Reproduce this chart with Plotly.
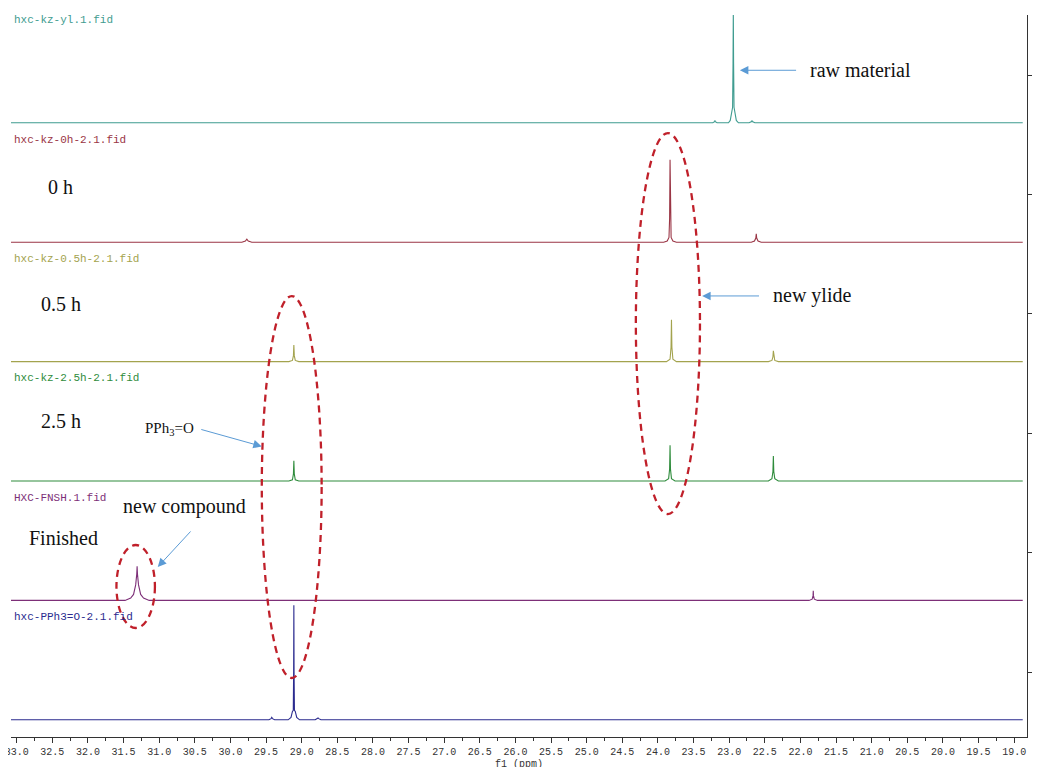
import plotly.graph_objects as go

# ---- data (ppm, relative intensity) ----
names = ["hxc-kz-yl.1.fid", "hxc-kz-0h-2.1.fid", "hxc-kz-0.5h-2.1.fid",
         "hxc-kz-2.5h-2.1.fid", "HXC-FNSH.1.fid", "hxc-PPh3=O-2.1.fid"]
colors = ["#3f9c90", "#9a3545", "#a3a34e", "#2f8c3c", "#7d2f78", "#2b2b8f"]
offsets = [5.6, 4.6, 3.6, 2.6, 1.6, 0.6]

ppm_yl = [33.08, 23.23, 23.205, 23.20, 23.195, 23.17, 23.01, 22.985, 22.965, 22.952,
          22.946, 22.942, 22.938, 22.932, 22.918, 22.90, 22.87, 22.72, 22.685, 22.68,
          22.675, 22.64, 18.88]
int_yl = [0, 0, 0.01, 0.02, 0.01, 0, 0, 0.02, 0.08, 0.13,
          0.5, 0.95, 0.5, 0.13, 0.08, 0.02, 0, 0, 0.01, 0.02,
          0.01, 0, 0]

ppm_0h = [33.08, 29.84, 29.79, 29.77, 29.75, 29.70, 23.92, 23.87, 23.845, 23.836,
          23.83, 23.824, 23.815, 23.79, 23.74, 22.69, 22.645, 22.626, 22.62, 22.614,
          22.595, 22.55, 18.88]
int_0h = [0, 0, 0.01, 0.025, 0.01, 0, 0, 0.01, 0.04, 0.2,
          0.69, 0.2, 0.04, 0.01, 0, 0, 0.01, 0.035, 0.07, 0.035,
          0.01, 0, 0]

ppm_05h = [33.08, 29.18, 29.13, 29.116, 29.11, 29.104, 29.09, 29.04, 23.88, 23.83,
           23.816, 23.81, 23.804, 23.79, 23.74, 22.45, 22.40, 22.386, 22.38, 22.374,
           22.36, 22.31, 18.88]
int_05h = [0, 0, 0.01, 0.05, 0.14, 0.05, 0.01, 0, 0, 0.02,
           0.12, 0.35, 0.12, 0.02, 0, 0, 0.01, 0.04, 0.09, 0.04,
           0.01, 0, 0]

ppm_25h = [33.08, 29.18, 29.13, 29.116, 29.11, 29.104, 29.09, 29.04, 23.90, 23.85,
           23.836, 23.83, 23.824, 23.81, 23.76, 22.45, 22.40, 22.386, 22.38, 22.374,
           22.36, 22.31, 18.88]
int_25h = [0, 0, 0.01, 0.06, 0.17, 0.06, 0.01, 0, 0, 0.02,
           0.1, 0.3, 0.1, 0.02, 0, 0, 0.02, 0.08, 0.21, 0.08,
           0.02, 0, 0]

ppm_fin = [33.08, 31.48, 31.44, 31.40, 31.36, 31.33, 31.315, 31.31, 31.305, 31.29,
           31.26, 31.22, 31.18, 31.14, 21.88, 21.835, 21.823, 21.82, 21.817, 21.805,
           21.76, 18.88]
int_fin = [0, 0, 0.01, 0.02, 0.05, 0.13, 0.22, 0.285, 0.22, 0.13,
           0.05, 0.02, 0.01, 0, 0, 0.01, 0.04, 0.08, 0.04, 0.01,
           0, 0]

ppm_pph = [33.08, 29.46, 29.43, 29.42, 29.41, 29.38, 29.19, 29.15, 29.13, 29.118,
           29.113, 29.11, 29.107, 29.102, 29.09, 29.07, 29.03, 28.81, 28.78, 28.77,
           28.76, 28.73, 18.88]
int_pph = [0, 0, 0.01, 0.02, 0.01, 0, 0, 0.02, 0.07, 0.08,
           0.4, 0.96, 0.4, 0.08, 0.07, 0.02, 0, 0, 0.01, 0.015,
           0.01, 0, 0]

spectra_ppm = [ppm_yl, ppm_0h, ppm_05h, ppm_25h, ppm_fin, ppm_pph]
spectra_int = [int_yl, int_0h, int_05h, int_25h, int_fin, int_pph]

x_ticks = [33.0 - 0.5 * i for i in range(29)]
y_ticks = [1, 2, 3, 4, 5, 6]

fig = go.Figure()
for name, col, off, xs, ys in zip(names, colors, offsets, spectra_ppm, spectra_int):
    fig.add_trace(go.Scatter(x=xs, y=[v + off for v in ys], mode="lines",
                             line=dict(color=col, width=1.1), name=name,
                             showlegend=False, hoverinfo="skip"))

annotations = []
for name, col, off in zip(names, colors, offsets):
    annotations.append(dict(x=33.07, y=off + 0.86, xref="x", yref="y", text=name,
                            showarrow=False, xanchor="left", yanchor="middle",
                            font=dict(family="Liberation Mono", size=11, color=col)))

serif = dict(family="Liberation Serif", size=20, color="#111111")
labels = [
    ("raw material", 21.89, 6.04, "left"),
    ("0 h", 32.38, 5.06, "center"),
    ("0.5 h", 32.38, 4.08, "center"),
    ("2.5 h", 32.38, 3.10, "center"),
    ("Finished", 32.35, 2.12, "center"),
    ("new compound", 30.65, 2.39, "center"),
    ("new ylide", 22.41, 4.15, "left"),
]
for t, x, y, xa in labels:
    annotations.append(dict(x=x, y=y, xref="x", yref="y", text=t, showarrow=False,
                            xanchor=xa, yanchor="middle", font=serif))
annotations.append(dict(x=30.85, y=3.035, xref="x", yref="y", text="PPh<sub>3</sub>=O",
                        showarrow=False, xanchor="center", yanchor="middle",
                        font=dict(family="Liberation Serif", size=15, color="#111111")))

arrows = [
    (22.85, 6.04, 22.04, 6.04),
    (23.38, 4.15, 22.56, 4.15),
    (29.56, 2.89, 30.43, 3.035),
    (31.02, 1.88, 30.54, 2.19),
]
for x, y, ax, ay in arrows:
    annotations.append(dict(x=x, y=y, ax=ax, ay=ay, xref="x", yref="y", axref="x", ayref="y",
                            text="", showarrow=True, arrowhead=2, arrowsize=1.7,
                            arrowwidth=1, arrowcolor="#5b9bd5"))

# right-axis tick labels (partly cut by the page edge, as in the original)
for v in y_ticks:
    annotations.append(dict(x=1, y=v, xref="paper", yref="y", text=str(v), showarrow=False,
                            xanchor="left", yanchor="middle", xshift=5,
                            font=dict(family="Liberation Mono", size=10, color="#333333")))

ellipses = [
    (24.31, 23.41, 2.323, 5.514),
    (29.56, 28.72, 0.95, 4.149),
    (31.60, 31.06, 1.369, 2.064),
]
shapes = []
for x0, x1, y0, y1 in ellipses:
    shapes.append(dict(type="circle", xref="x", yref="y", x0=x0, x1=x1, y0=y0, y1=y1,
                       line=dict(color="#c0202a", width=2.3, dash="7px,5px")))

# the page shows the figure with an 8 px body margin, margins compensate for it
fig.update_layout(
    width=1040, height=767,
    margin=dict(l=3, r=21, t=7, b=38, autoexpand=False),
    paper_bgcolor="white", plot_bgcolor="white",
    annotations=annotations, shapes=shapes,
    xaxis=dict(range=[33.08, 18.82], showgrid=False, zeroline=False, automargin=False,
               showline=True, linecolor="#333333", linewidth=1,
               ticks="outside", ticklen=5, tickcolor="#333333",
               tickvals=x_ticks, ticktext=[f"{v:.1f}" for v in x_ticks],
               ticklabeloverflow="allow",
               tickfont=dict(family="Liberation Mono", size=10, color="#333333"),
               minor=dict(dtick=0.25, tick0=33.0, ticks="outside", ticklen=3,
                          tickcolor="#333333", showgrid=False),
               title=dict(text="f1 (ppm)", standoff=2,
                          font=dict(family="Liberation Mono", size=10, color="#333333"))),
    yaxis=dict(range=[0.456, 6.503], side="right", showgrid=False, zeroline=False,
               automargin=False, showticklabels=False,
               showline=True, linecolor="#333333", linewidth=1,
               ticks="outside", ticklen=5, tickcolor="#333333",
               tickvals=y_ticks),
)

fig.write_html("out.html")
